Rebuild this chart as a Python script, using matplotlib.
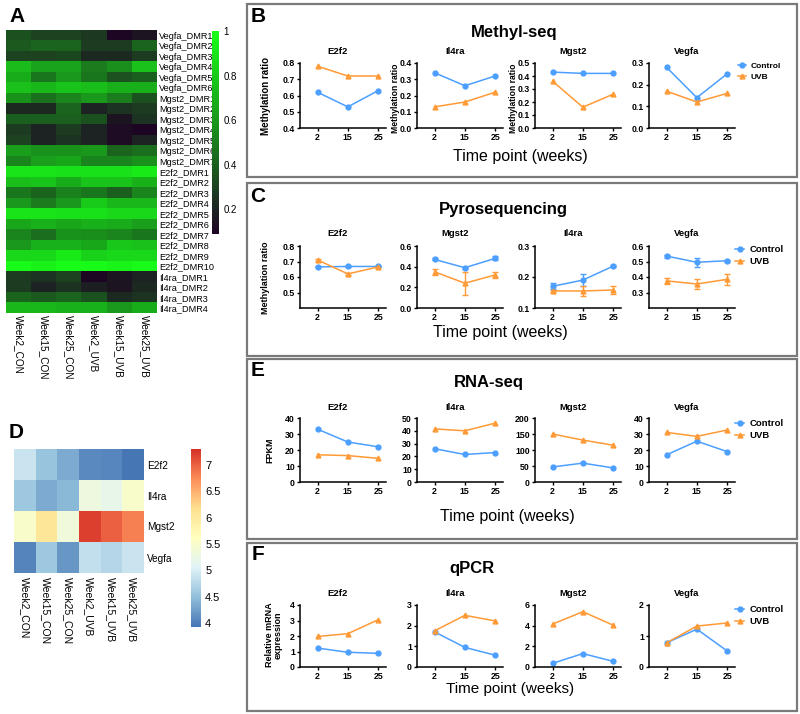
import numpy as np
import matplotlib
matplotlib.use('Agg')
import matplotlib.pyplot as plt
from matplotlib.colors import LinearSegmentedColormap
from matplotlib.patches import Rectangle
from matplotlib.lines import Line2D

plt.rcParams['font.family'] = ['Liberation Sans', 'DejaVu Sans']

W, H = 800, 714

# ---- data ----
samples = ['Week2_CON', 'Week15_CON', 'Week25_CON', 'Week2_UVB', 'Week15_UVB', 'Week25_UVB']

dmr_labels = ['Vegfa_DMR1', 'Vegfa_DMR2', 'Vegfa_DMR3', 'Vegfa_DMR4', 'Vegfa_DMR5', 'Vegfa_DMR6',
              'Mgst2_DMR1', 'Mgst2_DMR2', 'Mgst2_DMR3', 'Mgst2_DMR4', 'Mgst2_DMR5', 'Mgst2_DMR6',
              'Mgst2_DMR7', 'E2f2_DMR1', 'E2f2_DMR2', 'E2f2_DMR3', 'E2f2_DMR4', 'E2f2_DMR5',
              'E2f2_DMR6', 'E2f2_DMR7', 'E2f2_DMR8', 'E2f2_DMR9', 'E2f2_DMR10',
              'Il4ra_DMR1', 'Il4ra_DMR2', 'Il4ra_DMR3', 'Il4ra_DMR4']
dmr_values = [
    [0.35, 0.30, 0.30, 0.27, 0.10, 0.15],
    [0.38, 0.42, 0.42, 0.28, 0.28, 0.42],
    [0.30, 0.30, 0.32, 0.22, 0.22, 0.28],
    [0.74, 0.64, 0.64, 0.50, 0.57, 0.76],
    [0.68, 0.48, 0.60, 0.48, 0.36, 0.40],
    [0.76, 0.72, 0.77, 0.75, 0.69, 0.69],
    [0.58, 0.46, 0.53, 0.60, 0.50, 0.35],
    [0.22, 0.22, 0.42, 0.20, 0.25, 0.28],
    [0.40, 0.40, 0.40, 0.35, 0.15, 0.25],
    [0.28, 0.20, 0.28, 0.20, 0.12, 0.10],
    [0.30, 0.20, 0.25, 0.20, 0.12, 0.20],
    [0.63, 0.58, 0.58, 0.60, 0.42, 0.45],
    [0.53, 0.63, 0.66, 0.53, 0.53, 0.58],
    [0.90, 0.90, 0.88, 0.88, 0.88, 0.92],
    [0.75, 0.77, 0.68, 0.77, 0.77, 0.70],
    [0.48, 0.42, 0.52, 0.48, 0.40, 0.53],
    [0.60, 0.50, 0.60, 0.80, 0.72, 0.72],
    [0.90, 0.90, 0.88, 0.88, 0.85, 0.85],
    [0.66, 0.70, 0.66, 0.70, 0.68, 0.63],
    [0.53, 0.45, 0.58, 0.56, 0.53, 0.48],
    [0.60, 0.70, 0.70, 0.66, 0.78, 0.76],
    [0.85, 0.85, 0.92, 0.82, 0.85, 0.85],
    [0.98, 0.95, 0.98, 0.98, 0.96, 0.98],
    [0.28, 0.25, 0.30, 0.10, 0.15, 0.20],
    [0.28, 0.20, 0.25, 0.18, 0.15, 0.22],
    [0.42, 0.38, 0.42, 0.35, 0.22, 0.25],
    [0.72, 0.72, 0.70, 0.70, 0.60, 0.68],
]

expr_genes = ['E2f2', 'Il4ra', 'Mgst2', 'Vegfa']
expr_values = [
    [4.9, 4.55, 4.35, 4.1, 4.07, 3.95],
    [4.6, 4.35, 4.45, 5.3, 5.2, 5.5],
    [5.5, 6.05, 5.35, 7.2, 7.0, 6.8],
    [4.05, 4.6, 4.2, 4.85, 4.75, 4.9],
]

weeks = ['2', '15', '25']

# B: Methyl-seq
meth_genes = ['E2f2', 'Il4ra', 'Mgst2', 'Vegfa']
meth_ctrl = [[0.62, 0.53, 0.63], [0.34, 0.26, 0.32], [0.43, 0.42, 0.42], [0.28, 0.14, 0.25]]
meth_uvb = [[0.78, 0.72, 0.72], [0.13, 0.16, 0.22], [0.36, 0.16, 0.26], [0.17, 0.12, 0.16]]
meth_ylim = [(0.4, 0.8), (0.0, 0.4), (0.0, 0.5), (0.0, 0.3)]
meth_ticks = [[0.4, 0.5, 0.6, 0.7, 0.8], [0.0, 0.1, 0.2, 0.3, 0.4],
              [0.0, 0.1, 0.2, 0.3, 0.4, 0.5], [0.0, 0.1, 0.2, 0.3]]

# C: Pyrosequencing
pyro_genes = ['E2f2', 'Mgst2', 'Il4ra', 'Vegfa']
pyro_ctrl = [[0.665, 0.668, 0.668], [0.47, 0.39, 0.48], [0.17, 0.19, 0.235], [0.535, 0.495, 0.505]]
pyro_ctrl_err = [[0.003, 0.003, 0.003], [0.01, 0.01, 0.02], [0.01, 0.02, 0.003], [0.01, 0.03, 0.005]]
pyro_uvb = [[0.71, 0.62, 0.665], [0.35, 0.24, 0.32], [0.155, 0.155, 0.158], [0.375, 0.355, 0.385]]
pyro_uvb_err = [[0.004, 0.005, 0.004], [0.03, 0.11, 0.03], [0.003, 0.015, 0.012], [0.02, 0.035, 0.035]]
pyro_ylim = [(0.4, 0.8), (0.0, 0.6), (0.1, 0.3), (0.2, 0.6)]
pyro_ticks = [[0.5, 0.6, 0.7, 0.8], [0.0, 0.2, 0.4, 0.6], [0.1, 0.2, 0.3], [0.3, 0.4, 0.5, 0.6]]

# E: RNA-seq
rna_genes = ['E2f2', 'Il4ra', 'Mgst2', 'Vegfa']
rna_ctrl = [[33, 25, 22], [26, 21.5, 23], [47, 59, 44], [17, 25.5, 19]]
rna_uvb = [[17, 16.5, 14.8], [41.5, 40, 46], [150, 131, 115], [31, 28.5, 32.5]]
rna_ylim = [(0, 40), (0, 50), (0, 200), (0, 40)]
rna_ticks = [[0, 10, 20, 30, 40], [0, 10, 20, 30, 40, 50], [0, 50, 100, 150, 200], [0, 10, 20, 30, 40]]

# F: qPCR
qpcr_genes = ['E2f2', 'Il4ra', 'Mgst2', 'Vegfa']
qpcr_ctrl = [[1.22, 0.95, 0.88], [1.7, 0.95, 0.57], [0.35, 1.3, 0.55], [0.78, 1.22, 0.52]]
qpcr_uvb = [[1.97, 2.15, 3.05], [1.75, 2.5, 2.23], [4.15, 5.35, 4.05], [0.78, 1.32, 1.42]]
qpcr_ylim = [(0, 4), (0, 3), (0, 6), (0, 2)]
qpcr_ticks = [[0, 1, 2, 3, 4], [0, 1, 2, 3], [0, 2, 4, 6], [0, 1, 2]]

BLUE = '#4c9fff'
ORANGE = '#ff9a36'


def px(x0, y0, x1, y1):
    return [x0 / W, 1 - y1 / H, (x1 - x0) / W, (y1 - y0) / H]


def ftext(x, y, s, **kw):
    fig.text(x / W, 1 - y / H, s, **kw)


fig = plt.figure(figsize=(8, 7.14), dpi=100)

# ---- panel A ----
green_cmap = LinearSegmentedColormap.from_list('kg', ['#1e0424', '#1a8a1c', '#18ff18'])
axA = fig.add_axes(px(6, 30, 157, 313))
imA = axA.imshow(np.array(dmr_values), cmap=green_cmap, vmin=0.09, vmax=1.0, aspect='auto',
                 interpolation='nearest')
axA.set_yticks(range(len(dmr_labels)))
axA.set_yticklabels(dmr_labels, fontsize=6.6)
axA.yaxis.tick_right()
axA.set_xticks(range(len(samples)))
axA.set_xticklabels(samples, rotation=270, fontsize=7.2, ha='center', va='top')
axA.tick_params(length=0, pad=1.5)
for s in axA.spines.values():
    s.set_visible(False)
caxA = fig.add_axes(px(212, 31, 219, 234))
cbA = fig.colorbar(imA, cax=caxA, ticks=[0.2, 0.4, 0.6, 0.8, 1])
cbA.ax.set_yticklabels(['0.2', '0.4', '0.6', '0.8', '1'])
cbA.ax.tick_params(length=0, labelsize=7, pad=3)
cbA.outline.set_visible(False)
ftext(17, 16, 'A', fontsize=15, fontweight='bold', ha='center', va='center')

# ---- panel D ----
rdylbu = LinearSegmentedColormap.from_list('rb', ['#4575B4', '#91BFDB', '#E0F3F8', '#FFFFBF',
                                                  '#FEE090', '#FC8D59', '#D73027'])
axD = fig.add_axes(px(14, 449, 143, 573))
imD = axD.imshow(np.array(expr_values), cmap=rdylbu, vmin=3.93, vmax=7.3, aspect='auto',
                 interpolation='nearest')
axD.set_yticks(range(len(expr_genes)))
axD.set_yticklabels(expr_genes, fontsize=7.2)
axD.yaxis.tick_right()
axD.set_xticks(range(len(samples)))
axD.set_xticklabels(samples, rotation=270, fontsize=7.5, ha='center', va='top')
axD.tick_params(length=0, pad=3)
for s in axD.spines.values():
    s.set_visible(False)
caxD = fig.add_axes(px(191, 449, 201, 627))
cbD = fig.colorbar(imD, cax=caxD, ticks=[4, 4.5, 5, 5.5, 6, 6.5, 7])
cbD.ax.set_yticklabels(['4', '4.5', '5', '5.5', '6', '6.5', '7'])
cbD.ax.tick_params(length=0, labelsize=8, pad=3)
cbD.outline.set_visible(False)
ftext(16, 433, 'D', fontsize=15, fontweight='bold', ha='center', va='center')


# ---- line panels ----
col_left = [300, 417, 535, 649]
col_w = 86


def line_row(top, bottom, genes, ctrl, uvb, ylims, ticks, ctrl_err=None, uvb_err=None,
             title_y=None, fmt='{:.1f}'):
    for i, g in enumerate(genes):
        ax = fig.add_axes(px(col_left[i], top, col_left[i] + col_w, bottom))
        xs = np.arange(len(weeks))
        if ctrl_err is None:
            ax.plot(xs, ctrl[i], color=BLUE, marker='o', ms=3.5, lw=1.1)
            ax.plot(xs, uvb[i], color=ORANGE, marker='^', ms=3.5, lw=1.1)
        else:
            ax.errorbar(xs, ctrl[i], yerr=ctrl_err[i], color=BLUE, marker='o', ms=3.5, lw=1.1,
                        capsize=2, elinewidth=1)
            ax.errorbar(xs, uvb[i], yerr=uvb_err[i], color=ORANGE, marker='^', ms=3.5, lw=1.1,
                        capsize=2, elinewidth=1)
        ax.set_xlim(-0.58, 2.26)
        ax.set_ylim(*ylims[i])
        ax.set_xticks(xs)
        ax.set_xticklabels(weeks)
        ax.set_yticks(ticks[i])
        ax.set_yticklabels([fmt.format(t) for t in ticks[i]])
        for s in ['top', 'right']:
            ax.spines[s].set_visible(False)
        for s in ['left', 'bottom']:
            ax.spines[s].set_linewidth(1.1)
        ax.tick_params(labelsize=6.3, length=2.5, width=1, pad=1.2)
        for lab in ax.get_xticklabels() + ax.get_yticklabels():
            lab.set_fontweight('bold')
        ax.patch.set_alpha(0)
        ftext(col_left[i] + col_w / 2 - 5, title_y, g, fontsize=6.8, fontweight='bold',
              ha='center', va='center')


def legend_at(x, y, size=6.8):
    handles = [Line2D([], [], color=BLUE, marker='o', ms=3.5, lw=1.1, label='Control'),
               Line2D([], [], color=ORANGE, marker='^', ms=3.5, lw=1.1, label='UVB')]
    leg = fig.legend(handles=handles, loc='upper left', bbox_to_anchor=(x / W, 1 - y / H),
                     frameon=False, fontsize=size, handlelength=1.0, handletextpad=0.5,
                     labelspacing=0.35, borderaxespad=0, borderpad=0)
    for t in leg.get_texts():
        t.set_fontweight('bold')


def box(x0, y0, x1, y1):
    fig.patches.append(Rectangle((x0 / W, 1 - y1 / H), (x1 - x0) / W, (y1 - y0) / H,
                                 transform=fig.transFigure, fill=False, ec='#7a7a7a', lw=1.6))


# B
box(247, 4, 797, 177)
line_row(63, 128, meth_genes, meth_ctrl, meth_uvb, meth_ylim, meth_ticks, title_y=52)
ftext(258, 17, 'B', fontsize=15, fontweight='bold', ha='center', va='center')
ftext(514, 32, 'Methyl-seq', fontsize=12, fontweight='bold', ha='center', va='center')
ftext(520, 157, 'Time point (weeks)', fontsize=11.5, ha='center', va='center')
ftext(266, 96, 'Methylation ratio', fontsize=7, fontweight='bold', rotation=90, ha='center', va='center')
ftext(395, 98, 'Methylation ratio', fontsize=6.2, fontweight='bold', rotation=90, ha='center', va='center')
ftext(513, 98, 'Methylation ratio', fontsize=6.2, fontweight='bold', rotation=90, ha='center', va='center')
legend_at(738, 62, size=6)

# C
box(247, 183, 797, 356)
line_row(246, 308, pyro_genes, pyro_ctrl, pyro_uvb, pyro_ylim, pyro_ticks,
         ctrl_err=pyro_ctrl_err, uvb_err=pyro_uvb_err, title_y=234)
ftext(258, 196, 'C', fontsize=15, fontweight='bold', ha='center', va='center')
ftext(503, 209, 'Pyrosequencing', fontsize=12, fontweight='bold', ha='center', va='center')
ftext(500, 332, 'Time point (weeks)', fontsize=11.5, ha='center', va='center')
ftext(266, 278, 'Methylation ratio', fontsize=6.5, fontweight='bold', rotation=90, ha='center', va='center')
legend_at(735, 245)

# E
box(247, 359, 797, 539)
line_row(418, 482, rna_genes, rna_ctrl, rna_uvb, rna_ylim, rna_ticks, title_y=408, fmt='{:g}')
ftext(258, 370, 'E', fontsize=15, fontweight='bold', ha='center', va='center')
ftext(489, 383, 'RNA-seq', fontsize=12, fontweight='bold', ha='center', va='center')
ftext(507, 517, 'Time point (weeks)', fontsize=11.5, ha='center', va='center')
ftext(270, 450, 'FPKM', fontsize=6.5, fontweight='bold', rotation=90, ha='center', va='center')
legend_at(735, 419)

# F
box(247, 543, 797, 711)
line_row(605, 667, qpcr_genes, qpcr_ctrl, qpcr_uvb, qpcr_ylim, qpcr_ticks, title_y=594, fmt='{:g}')
ftext(258, 555, 'F', fontsize=15, fontweight='bold', ha='center', va='center')
ftext(472, 568, 'qPCR', fontsize=12, fontweight='bold', ha='center', va='center')
ftext(510, 689, 'Time point (weeks)', fontsize=11, ha='center', va='center')
ftext(274, 635, 'Relative mRNA\nexpression', fontsize=6.5, fontweight='bold', rotation=90,
      ha='center', va='center', linespacing=1.0)
legend_at(735, 605)

fig.savefig('out.png', dpi=100)
